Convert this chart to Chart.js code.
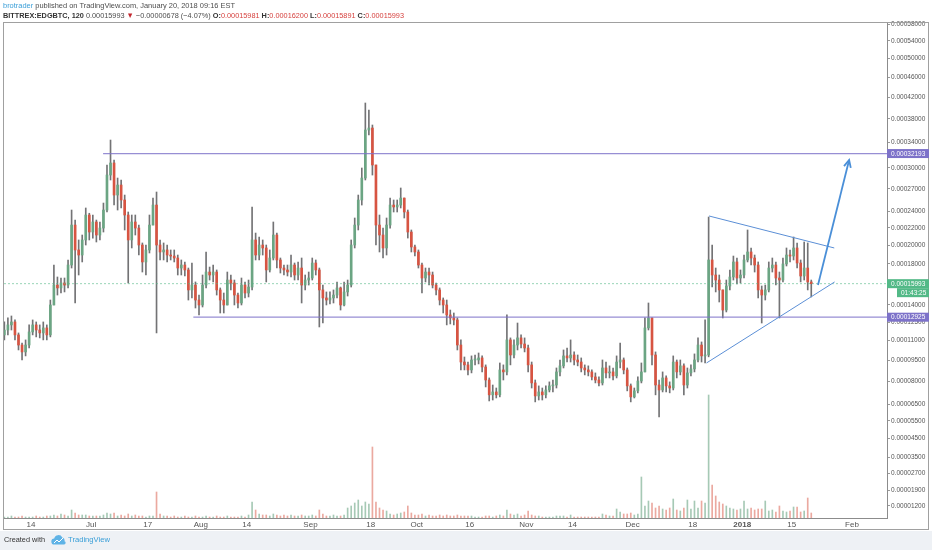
<!DOCTYPE html>
<html>
<head>
<meta charset="utf-8">
<script src="https://cdn.jsdelivr.net/npm/chart.js@4.4.1/dist/chart.umd.min.js"></script>
<style>
html, body { margin: 0; padding: 0; background: #fff; }
#wrap { position: relative; width: 932px; height: 550px; overflow: hidden; font-family: "Liberation Sans", Arial, sans-serif; }
#foot { position: absolute; left: 0; top: 531px; width: 932px; height: 19px; background: #eef1f5; }
canvas { position: absolute; left: 0; top: 0; }
.hl { position: absolute; left: 3px; white-space: nowrap; font-size: 8px; line-height: 10px; color: #4d4d4d; transform-origin: 0 0; }
.r { color: #d6423f; }
b { color: #333; }
</style>
</head>
<body>
<div id="wrap">
  <div id="foot"></div>
  <canvas id="chart" width="932" height="550"></canvas>
  <div id="h1" class="hl" style="top:1px"><span style="color:#3b9fd8">brotrader</span> published on TradingView.com, January 20, 2018 09:16 EST</div>
  <div id="h2" class="hl" style="top:11px"><b>BITTREX:EDGBTC, 120</b> 0.00015993 <span style="color:#c3262e">▼</span> −0.00000678 (−4.07%) <b>O:</b><span class="r">0.00015981</span> <b>H:</b><span class="r">0.00016200</span> <b>L:</b><span class="r">0.00015891</span> <b>C:</b><span class="r">0.00015993</span></div>
  <div id="f1" class="hl" style="top:535px;left:4px;color:#333">Created with</div>
  <svg style="position:absolute;left:51px;top:535px" width="16" height="10" viewBox="0 0 16 10">
    <path d="M3.5 9.5a3 3 0 0 1-.3-6A4.3 4.3 0 0 1 11.3 2.6a3 3 0 0 1 2.2 3.6 1.7 1.7 0 0 1-.4 3.3z" fill="#5fb3e6"/>
    <path d="M3 8l3-3 2 2 4-4" stroke="#fff" stroke-width="1" fill="none"/>
  </svg>
  <div id="f2" class="hl" style="top:535px;left:68px;color:#3a9fd8">TradingView</div>
</div>
<script>
// daily candles, price in satoshi; day numbers counted from 1 Jun 2017
const FIRST_DAY = 5;

const OPEN = [
  11450, 11850, 12270, 12520, 11450, 10650, 10120, 10650, 11690, 12270,
  11850, 11610, 12020, 11450, 14000, 15860, 15580, 16060, 15860, 17870,
  22350, 19480, 18930, 20600, 23580, 21520, 22720, 21170, 21990, 24210,
  28960, 30740, 26170, 27540, 25510, 23580, 20600, 22720, 21990, 20030,
  18190, 19480, 22350, 24850, 20030, 19260, 19480, 18930, 18820, 18610,
  17560, 17870, 17360, 15390, 15860, 14450, 14000, 15860, 17150, 16850,
  17150, 15390, 14450, 14000, 16350, 16060, 14910, 14180, 15860, 15100,
  15670, 20600, 18930, 20030, 19700, 17360, 18610, 21170, 18400, 17560,
  17360, 17150, 17870, 16850, 17560, 15860, 16350, 16550, 18080, 17360,
  15390, 14640, 14450, 14640, 14910, 15580, 14000, 15200, 15860, 20030,
  22350, 25510, 28530, 36040, 36380, 30440, 22350, 21170, 19700, 22350,
  24850, 24600, 24850, 25770, 23960, 21520, 19810, 19260, 17870, 16550,
  17150, 16850, 15860, 15390, 14450, 14000, 13120, 12860, 12690, 10650,
  9370, 9160, 8800, 9520, 9520, 9670, 9010, 8100, 7110, 7300,
  7110, 8800, 8660, 11050, 9890, 10650, 11210, 10730, 10420, 9160,
  7900, 7040, 7300, 7110, 7430, 7700, 7760, 8660, 9090, 9820,
  9670, 9890, 9520, 9370, 8940, 8800, 8660, 8310, 8100, 7900,
  8940, 8590, 8660, 8380, 9370, 9520, 8800, 7700, 6980, 7370,
  8030, 8660, 12020, 12860, 9890, 7760, 7430, 8240, 7700, 7560,
  9370, 8660, 9090, 7760, 8590, 8870, 9520, 10650, 9820, 9890,
  18400, 16850, 16350, 15390, 13550, 15770, 16650, 18190, 16550, 16850,
  18400, 19260, 18610, 17870, 15390, 14910, 15390, 17560, 17870, 16550,
  16350, 17980, 18930, 18820, 19700, 18080, 16750, 17560, 16160
];
const HIGH = [
  12520, 12860, 13030, 12690, 11610, 10810, 11050, 12270, 12690, 12520,
  12270, 12520, 12270, 14450, 17870, 16650, 16550, 16550, 18400, 24210,
  22960, 20600, 21170, 24470, 23800, 23580, 22960, 22720, 25110, 30440,
  34360, 31190, 28530, 28250, 26170, 23960, 23580, 23580, 22350, 20260,
  20030, 23580, 25770, 26580, 20600, 20260, 20030, 19480, 19480, 18930,
  18400, 18190, 17560, 18080, 16160, 14910, 16850, 19260, 17660, 17870,
  17360, 15580, 15100, 17150, 16850, 16350, 15100, 16550, 16160, 16350,
  24600, 21400, 20940, 20600, 20030, 19480, 22720, 21400, 18610, 17870,
  17870, 18930, 18080, 18190, 18610, 16850, 17150, 18610, 18400, 17560,
  15860, 15200, 15200, 15390, 16160, 15670, 16160, 16350, 20600, 23210,
  26170, 29990, 40880, 39580, 36900, 30440, 23580, 21990, 23210, 25770,
  25510, 25510, 27130, 25770, 24210, 21760, 20030, 19480, 18080, 17560,
  17560, 17150, 16060, 15580, 14640, 14450, 13550, 13290, 12860, 11050,
  9740, 9370, 9820, 9890, 10040, 9820, 9160, 8240, 7760, 7560,
  9300, 9160, 13120, 11210, 11050, 12430, 11450, 11210, 10650, 9370,
  8100, 7700, 7560, 7700, 7970, 8100, 8940, 9520, 10270, 10420,
  11050, 10120, 9890, 9670, 9160, 9090, 8800, 8590, 8310, 9520,
  9370, 9090, 8940, 9820, 10810, 9670, 8940, 7830, 7560, 8310,
  9300, 12860, 14180, 12860, 10120, 8100, 8660, 8380, 7970, 9820,
  9520, 9520, 9230, 8940, 9160, 9970, 11210, 10890, 12690, 23330,
  20030, 17560, 16850, 15390, 16350, 17360, 18820, 18610, 17360, 18930,
  21760, 19700, 18930, 18190, 15770, 15860, 18190, 18610, 18190, 17150,
  18610, 19700, 19480, 20940, 20260, 18400, 20370, 20260, 16350
];
const LOW = [
  11050, 11450, 11850, 11050, 10270, 9520, 9820, 10420, 11450, 11290,
  11210, 11050, 11050, 11290, 14000, 14910, 15100, 15200, 15580, 17560,
  14180, 16850, 18190, 20030, 20600, 20820, 20370, 20600, 21520, 23960,
  28250, 24850, 24210, 24470, 21760, 16060, 19700, 21170, 18930, 17150,
  16850, 19150, 22350, 11610, 18400, 18400, 18190, 18400, 18190, 16850,
  16850, 16750, 14450, 14640, 13730, 13120, 13820, 15580, 16350, 16160,
  14910, 13290, 13290, 14000, 15390, 14000, 13730, 14000, 14640, 14730,
  15390, 18400, 18400, 18930, 16160, 17150, 18400, 17560, 17050, 16850,
  16750, 16650, 16350, 16350, 14180, 15390, 15860, 16350, 16850, 12100,
  12430, 14000, 14090, 14180, 14640, 13550, 13910, 14820, 15670, 19700,
  21760, 24850, 28250, 35190, 28960, 20030, 19260, 18610, 18930, 21990,
  23960, 23960, 24470, 23210, 20820, 19260, 18820, 17560, 15100, 16160,
  15860, 15580, 14910, 14000, 13290, 12270, 12350, 12270, 10270, 8800,
  8800, 8450, 8590, 9160, 9230, 8660, 7630, 6720, 6780, 6910,
  6980, 8100, 8450, 9160, 9670, 10270, 10420, 10120, 8660, 7560,
  6660, 6780, 6780, 6910, 7300, 7300, 7560, 8380, 8940, 9370,
  9370, 9160, 9090, 8660, 8450, 8380, 8100, 7900, 7700, 7760,
  8240, 8240, 8100, 8240, 8940, 8520, 7370, 6660, 6910, 7240,
  7900, 8660, 11850, 9160, 7110, 5740, 7300, 7300, 7240, 7430,
  8240, 8450, 7110, 7560, 8380, 8660, 9370, 9370, 9300, 9750,
  15670, 15200, 14270, 12860, 13380, 15390, 16350, 15960, 16060, 16550,
  18190, 17870, 17150, 14640, 12430, 14450, 15200, 17150, 15860, 12860,
  16160, 17770, 18190, 18400, 17560, 16160, 16350, 15390, 14730
];
const CLOSE = [
  11850, 12270, 12520, 11450, 10650, 10120, 10650, 11690, 12270, 11850,
  11610, 12020, 11450, 14000, 15860, 15580, 16060, 15860, 17870, 22350,
  19480, 18930, 20600, 23580, 21520, 22720, 21170, 21990, 24210, 28960,
  30740, 26170, 27540, 25510, 23580, 20600, 22720, 21990, 20030, 18190,
  19480, 22350, 24850, 20030, 19260, 19480, 18930, 18820, 18610, 17560,
  17870, 17360, 15390, 15860, 14450, 14000, 15860, 17150, 16850, 17150,
  15390, 14450, 14000, 16350, 16060, 14910, 14180, 15860, 15100, 15670,
  20600, 18930, 20030, 19700, 17360, 18610, 21170, 18400, 17560, 17360,
  17150, 17870, 16850, 17560, 15860, 16350, 16550, 18080, 17360, 15390,
  14640, 14450, 14640, 14910, 15580, 14000, 15200, 15860, 20030, 22350,
  25510, 28530, 36040, 36380, 30440, 22350, 21170, 19700, 22350, 24850,
  24600, 24850, 25770, 23960, 21520, 19810, 19260, 17870, 16550, 17150,
  16850, 15860, 15390, 14450, 14000, 13120, 12860, 12690, 10650, 9370,
  9160, 8800, 9520, 9520, 9670, 9010, 8100, 7110, 7300, 7110,
  8800, 8660, 11050, 9890, 10650, 11210, 10730, 10420, 9160, 7900,
  7040, 7300, 7110, 7430, 7700, 7760, 8660, 9090, 9820, 9670,
  9890, 9520, 9370, 8940, 8800, 8660, 8310, 8100, 7900, 8940,
  8590, 8660, 8380, 9370, 9520, 8800, 7700, 6980, 7370, 8030,
  8660, 12020, 12860, 9890, 7760, 7430, 8240, 7700, 7560, 9370,
  8660, 9090, 7760, 8590, 8870, 9520, 10650, 9820, 9890, 18400,
  16850, 16350, 15390, 13550, 15770, 16650, 18190, 16550, 16850, 18400,
  19260, 18610, 17870, 15390, 14910, 15390, 17560, 17870, 16550, 16350,
  17980, 18930, 18820, 19700, 18080, 16750, 17560, 16160, 15993
];
const VOLUME = [
  1, 1, 2, 1, 1, 2, 1, 1, 1, 2,
  1, 1, 2, 2, 3, 2, 4, 3, 2, 8,
  5, 3, 3, 3, 2, 2, 2, 2, 3, 5,
  4, 5, 2, 3, 2, 4, 2, 3, 2, 2,
  1, 2, 2, 26, 4, 2, 2, 1, 2, 1,
  1, 2, 1, 1, 2, 1, 1, 2, 1, 1,
  2, 1, 1, 2, 1, 1, 1, 2, 1, 3,
  16, 8, 4, 3, 3, 2, 4, 3, 2, 3,
  2, 3, 2, 2, 3, 2, 2, 3, 2, 8,
  4, 2, 2, 3, 2, 2, 3, 10, 12, 15,
  18, 12, 16, 14, 71, 16, 10, 8, 7, 4,
  3, 4, 5, 6, 12, 5, 3, 3, 4, 2,
  3, 2, 2, 3, 2, 3, 2, 2, 3, 2,
  2, 2, 2, 1, 1, 1, 2, 2, 1, 2,
  3, 2, 8, 4, 3, 4, 2, 3, 7, 3,
  2, 2, 1, 1, 1, 1, 2, 2, 2, 1,
  3, 1, 1, 1, 1, 1, 1, 1, 1, 4,
  3, 2, 2, 9, 6, 4, 4, 5, 3, 4,
  41, 12, 17, 15, 10, 12, 9, 8, 10, 19,
  8, 7, 10, 18, 9, 17, 10, 17, 15, 123,
  33, 22, 16, 14, 12, 10, 9, 8, 9, 17,
  9, 10, 8, 9, 9, 17, 7, 8, 6, 12,
  7, 6, 7, 11, 11, 6, 7, 20, 5
];

const PRICE_TICKS = [58000, 54000, 50000, 46000, 42000, 38000, 34000, 30000, 27000, 24000, 22000, 20000, 18000,
  16000, 14000, 12500, 11000, 9500, 8000, 6500, 5500, 4500, 3500, 2700, 1900, 1200];
const DATE_TICKS = [13, 30, 46, 61, 74, 92, 109, 122, 137, 153, 166, 183, 200, 214, 228, 245];
const DATE_LABELS = ['14', 'Jul', '17', 'Aug', '14', 'Sep', '18', 'Oct', '16', 'Nov', '14', 'Dec', '18', '2018', '15', 'Feb'];

const LAST_PRICE = 15993;
const RESISTANCE = 32193;
const SUPPORT = 12925;
const RESIST_LINE = [{ x: 33.4, y: RESISTANCE }, { x: 254.9, y: RESISTANCE }];
const SUPPORT_LINE = [{ x: 58.9, y: SUPPORT }, { x: 254.9, y: SUPPORT }];
const LAST_LINE = [{ x: 5.4, y: LAST_PRICE }, { x: 254.9, y: LAST_PRICE }];
const TRI_TOP = [{ x: 204.6, y: 23460 }, { x: 240.0, y: 19700 }];
const TRI_BOTTOM = [{ x: 203.9, y: 9300 }, { x: 240.1, y: 16160 }];
const ARROW = [{ x: 235.4, y: 15860 }, { x: 244.2, y: 31190 }];

const UP = '#6ba583', DOWN = '#d75442', WICK = '#737375';
const PURPLE = '#7d72c9', GREEN = '#53b987', BLUE = '#4a8fd8';
const FONT = '"Liberation Sans", Arial, sans-serif';

// TradingView's price axis here is a log of (price + shift)
const SHIFT = 10600;
class PriceScale extends Chart.LinearScale {
  determineDataLimits() {
    this.min = this.options.min;
    this.max = this.options.max;
  }
  buildTicks() {
    return PRICE_TICKS.map(v => ({ value: v }));
  }
  configure() {
    super.configure();
    this._lo = Math.log(this.min + SHIFT);
    this._hi = Math.log(this.max + SHIFT);
  }
  getPixelForValue(v) {
    return this.getPixelForDecimal((Math.log(v + SHIFT) - this._lo) / (this._hi - this._lo));
  }
  getValueForPixel(p) {
    return Math.exp(this._lo + this.getDecimalForPixel(p) * (this._hi - this._lo)) - SHIFT;
  }
}
PriceScale.id = 'pricescale';
PriceScale.defaults = {};
Chart.register(PriceScale);

const fmt = v => (v / 1e8).toFixed(8);
const days = CLOSE.map((_, i) => FIRST_DAY + i + 0.5);
const rising = CLOSE.map((c, i) => c >= OPEN[i]);

const line = (data, color, width, dash) => ({
  type: 'line', data, borderColor: color, borderWidth: width, borderDash: dash || [],
  pointRadius: 0, fill: false, tension: 0, xAxisID: 'x', yAxisID: 'y'
});

const overlay = {
  id: 'overlay',
  afterDraw(chart) {
    const { ctx, scales: { x, y } } = chart;
    ctx.save();
    ctx.strokeStyle = '#a0a0a0';
    ctx.lineWidth = 1;
    ctx.strokeRect(3.5, 22.5, 925, 507);

    // arrow head
    const x1 = x.getPixelForValue(ARROW[0].x), y1 = y.getPixelForValue(ARROW[0].y);
    const x2 = x.getPixelForValue(ARROW[1].x), y2 = y.getPixelForValue(ARROW[1].y);
    const ang = Math.atan2(y2 - y1, x2 - x1);
    ctx.strokeStyle = BLUE;
    ctx.lineWidth = 1.8;
    ctx.beginPath();
    ctx.moveTo(x2 - 8 * Math.cos(ang - 0.45), y2 - 8 * Math.sin(ang - 0.45));
    ctx.lineTo(x2, y2);
    ctx.lineTo(x2 - 8 * Math.cos(ang + 0.45), y2 - 8 * Math.sin(ang + 0.45));
    ctx.stroke();

    // price tags on the axis
    ctx.font = '6.5px ' + FONT;
    ctx.textBaseline = 'middle';
    const tag = (v, bg, text, dy, left) => {
      const py = y.getPixelForValue(v) + dy;
      ctx.fillStyle = bg;
      ctx.fillRect(left, py - 4.5, 929 - left, 9);
      ctx.fillStyle = '#fff';
      ctx.fillText(text, left + 4, py + 0.5);
    };
    tag(RESISTANCE, PURPLE, fmt(RESISTANCE), 0, 887);
    tag(SUPPORT, PURPLE, fmt(SUPPORT), 0, 887);
    tag(LAST_PRICE, GREEN, fmt(LAST_PRICE), 0, 887);
    tag(LAST_PRICE, GREEN, '01:43:25', 9, 897);
    ctx.restore();
  }
};

new Chart(document.getElementById('chart'), {
  type: 'bar',
  data: {
    datasets: [
      line(ARROW, BLUE, 1.8),
      line(TRI_TOP, '#5b8fd6', 1),
      line(TRI_BOTTOM, '#5b8fd6', 1),
      line(RESIST_LINE, 'rgba(125,114,201,0.8)', 1.3),
      line(SUPPORT_LINE, 'rgba(125,114,201,0.8)', 1.3),
      line(LAST_LINE, 'rgba(83,185,135,0.6)', 1, [2, 2]),
      {
        data: days.map((x, i) => ({ x, y: [OPEN[i], CLOSE[i]] })),
        backgroundColor: rising.map(u => u ? UP : DOWN),
        barThickness: 2, minBarLength: 1, grouped: false, yAxisID: 'y'
      },
      {
        data: days.map((x, i) => ({ x, y: [Math.min(LOW[i], OPEN[i], CLOSE[i]), Math.max(HIGH[i], OPEN[i], CLOSE[i])] })),
        backgroundColor: WICK, barThickness: 1, grouped: false, yAxisID: 'y'
      },
      {
        data: days.map((x, i) => ({ x, y: VOLUME[i] })),
        backgroundColor: rising.map(u => u ? 'rgba(107,165,131,0.6)' : 'rgba(215,84,66,0.5)'),
        barThickness: 1, grouped: false, yAxisID: 'yv'
      }
    ]
  },
  options: {
    responsive: false,
    animation: false,
    events: [],
    layout: { padding: { left: 4, right: 2, top: 23, bottom: 20 } },
    plugins: { legend: { display: false }, tooltip: { enabled: false } },
    scales: {
      x: {
        type: 'linear', min: 5.4, max: 254.9, bounds: 'data', offset: false,
        afterBuildTicks: s => { s.ticks = DATE_TICKS.map(v => ({ value: v })); },
        afterFit: s => { s.height = 12; },
        grid: { display: false, drawTicks: false, tickLength: 0, offset: false },
        border: { display: true, color: '#8c8c8c' },
        ticks: {
          autoSkip: false, maxRotation: 0, padding: 2, color: '#555',
          callback: (v, i) => DATE_LABELS[i],
          font: c => ({ family: FONT, size: 8, weight: c.tick && c.tick.value === 214 ? 'bold' : 'normal' })
        }
      },
      y: {
        type: 'pricescale', position: 'right', min: 690, max: 58370,
        afterFit: s => { s.width = 43; },
        grid: { drawOnChartArea: false, tickLength: 3, color: '#9a9a9a' },
        border: { display: true, color: '#8c8c8c' },
        ticks: {
          autoSkip: false, padding: 1, color: '#555',
          font: { family: FONT, size: 6.5 },
          callback: v => fmt(v)
        }
      },
      yv: { display: false, min: 0, max: 495 }
    }
  },
  plugins: [overlay]
});

function fit(id, w) {
  const el = document.getElementById(id);
  el.style.transform = 'scaleX(' + (w / el.getBoundingClientRect().width) + ')';
}
fit('h1', 232);
fit('h2', 401);
fit('f1', 41);
fit('f2', 42);
</script>
</body>
</html>
